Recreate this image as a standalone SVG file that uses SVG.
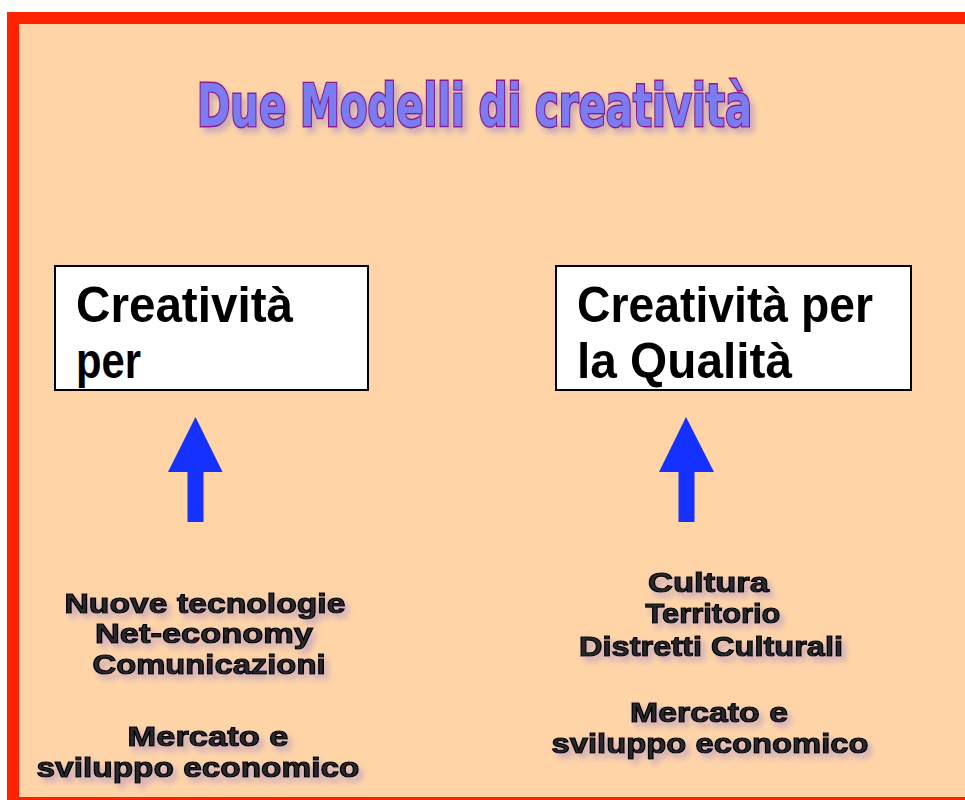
<svg xmlns="http://www.w3.org/2000/svg" width="965" height="800" viewBox="0 0 965 800">
<style>
.box{fill:#FFFFFF;stroke:#000000;stroke-width:2}
.boxt{font-family:"Liberation Sans",Arial,sans-serif;font-weight:bold;font-size:50px;fill:#000000}
.title{font-family:"Liberation Sans Narrow","DejaVu Sans Condensed","Liberation Sans",sans-serif;font-weight:bold;font-size:58px;fill:#7B7BF2;stroke:#8A1C8A;stroke-width:2.8;paint-order:stroke}
.lbl{font-family:"Liberation Sans",Arial,sans-serif;font-weight:bold;font-size:28px;fill:#2a2a2a;stroke:#000000;stroke-width:1.2;text-anchor:middle}
.arrow{fill:#1431FF}
</style>
<defs>
<filter id="sh" x="-10%" y="-30%" width="125%" height="180%">
<feDropShadow dx="4" dy="5" stdDeviation="3" flood-color="#9C84C8" flood-opacity="0.55"/>
</filter>
<clipPath id="clipL"><rect x="55" y="266" width="313" height="124"/></clipPath>
</defs>
<rect x="0" y="0" width="965" height="800" fill="#FFFFFF"/>
<rect x="7" y="12" width="958" height="788" fill="#FF2200"/>
<rect x="19" y="24" width="946" height="773" fill="#FFD5A8"/>

<g id="title" filter="url(#sh)">
<text class="title" x="197" y="126" textLength="555" lengthAdjust="spacingAndGlyphs">Due Modelli di creatività</text>
</g>

<g id="node-left">
<rect class="box" x="55" y="266" width="313" height="124"/>
<g clip-path="url(#clipL)">
<text class="boxt" x="76" y="322" textLength="217" lengthAdjust="spacingAndGlyphs">Creatività</text>
<text class="boxt" x="76" y="378" textLength="65" lengthAdjust="spacingAndGlyphs">per</text>
</g>
</g>

<g id="node-right">
<rect class="box" x="556" y="266" width="355" height="124"/>
<text class="boxt" x="577" y="322" textLength="296" lengthAdjust="spacingAndGlyphs">Creatività per</text>
<text class="boxt" x="577" y="378" textLength="215" lengthAdjust="spacingAndGlyphs">la Qualità</text>
</g>

<g id="connectors">
<polygon class="arrow" points="195.5,417 222.5,472 203.5,472 203.5,522 187.5,522 187.5,472 168,472"/>
<polygon class="arrow" points="686,417 714,472 694.5,472 694.5,522 678.5,522 678.5,472 659,472"/>
</g>

<g id="node-left-sources" filter="url(#sh)">
<text class="lbl" x="205" y="613" textLength="281" lengthAdjust="spacingAndGlyphs">Nuove tecnologie</text>
<text class="lbl" x="204" y="643" textLength="218" lengthAdjust="spacingAndGlyphs">Net-economy</text>
<text class="lbl" x="209" y="674" textLength="233" lengthAdjust="spacingAndGlyphs">Comunicazioni</text>
<text class="lbl" x="208" y="746" textLength="161" lengthAdjust="spacingAndGlyphs">Mercato e</text>
<text class="lbl" x="198" y="777" textLength="323" lengthAdjust="spacingAndGlyphs">sviluppo economico</text>
</g>

<g id="node-right-sources" filter="url(#sh)">
<text class="lbl" x="708.5" y="592" textLength="121" lengthAdjust="spacingAndGlyphs">Cultura</text>
<text class="lbl" x="713" y="623" textLength="135" lengthAdjust="spacingAndGlyphs">Territorio</text>
<text class="lbl" x="711" y="656" textLength="264" lengthAdjust="spacingAndGlyphs">Distretti Culturali</text>
<text class="lbl" x="709" y="722" textLength="158" lengthAdjust="spacingAndGlyphs">Mercato e</text>
<text class="lbl" x="710" y="753" textLength="317" lengthAdjust="spacingAndGlyphs">sviluppo economico</text>
</g>
</svg>
